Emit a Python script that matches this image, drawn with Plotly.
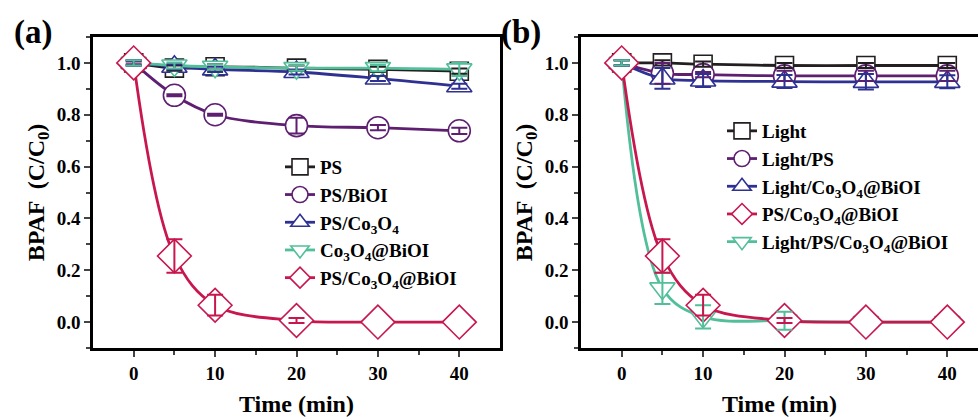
import plotly.graph_objects as go

time_min = [0, 5, 10, 20, 30, 40]
x_ticks = [0, 10, 20, 30, 40]
y_ticks = [0.0, 0.2, 0.4, 0.6, 0.8, 1.0]

# Panel (a)
a_names = ["PS", "PS/BiOI", "PS/Co<sub>3</sub>O<sub>4</sub>", "Co<sub>3</sub>O<sub>4</sub>@BiOI", "PS/Co<sub>3</sub>O<sub>4</sub>@BiOI"]
a_ps = [1.0, 0.98, 0.985, 0.98, 0.975, 0.968]
a_ps_err = [0.01, 0.01, 0.01, 0.01, 0.01, 0.01]
a_psbioi = [1.0, 0.875, 0.80, 0.758, 0.75, 0.738]
a_psbioi_err = [0.005, 0.004, 0.004, 0.03, 0.01, 0.012]
a_psco = [1.0, 0.985, 0.975, 0.965, 0.94, 0.91]
a_psco_err = [0.01, 0.01, 0.01, 0.01, 0.01, 0.01]
a_cobioi = [1.0, 0.99, 0.985, 0.98, 0.98, 0.975]
a_cobioi_err = [0.01, 0.012, 0.01, 0.01, 0.012, 0.025]
a_pscobioi = [1.0, 0.255, 0.065, 0.006, 0.0, 0.0]
a_pscobioi_err = [None, 0.065, 0.04, 0.01, None, None]

# Panel (b)
b_names = ["Light", "Light/PS", "Light/Co<sub>3</sub>O<sub>4</sub>@BiOI", "PS/Co<sub>3</sub>O<sub>4</sub>@BiOI", "Light/PS/Co<sub>3</sub>O<sub>4</sub>@BiOI"]
b_light = [1.0, 1.0, 0.995, 0.99, 0.99, 0.99]
b_light_err = [0.01, 0.01, 0.01, 0.01, 0.01, 0.01]
b_lightps = [1.0, 0.96, 0.955, 0.95, 0.95, 0.95]
b_lightps_err = [0.01, 0.04, 0.01, 0.02, 0.02, 0.02]
b_lightco = [1.0, 0.94, 0.932, 0.928, 0.927, 0.927]
b_lightco_err = [0.01, 0.04, 0.025, 0.025, 0.03, 0.025]
b_pscobioi = [1.0, 0.255, 0.065, 0.006, 0.0, 0.0]
b_pscobioi_err = [None, 0.065, 0.04, 0.01, None, None]
b_all = [1.0, 0.13, 0.02, 0.005, 0.0, 0.0]
b_all_err = [0.01, 0.06, 0.045, 0.035, None, None]

BLACK = "#231f20"
PURPLE = "#5e1f71"
BLUE = "#2e3192"
GREEN = "#52bf9a"
RED = "#c8174e"

FONT = "Liberation Serif"

fig = go.Figure()

def add_series(name, y, color, symbol, size, xa, ya, legend, rank):
    fig.add_trace(go.Scatter(
        x=time_min, y=y, name="<b>" + name + "</b>", mode="lines+markers",
        line=dict(color=color, width=2.8, shape="spline", smoothing=1.0),
        marker=dict(symbol=symbol, size=size, color="white",
                    line=dict(color=color, width=1.6)),
        xaxis=xa, yaxis=ya, legend=legend, legendrank=rank,
        legendgroup=legend + name, cliponaxis=False,
    ))

def add_err(y, err, color, xa, ya):
    xs = [t for t, e in zip(time_min, err) if e is not None]
    ys = [v for v, e in zip(y, err) if e is not None]
    es = [e for e in err if e is not None]
    fig.add_trace(go.Scatter(
        x=xs, y=ys, mode="markers", showlegend=False,
        marker=dict(size=1, opacity=0, color=color),
        error_y=dict(type="data", array=es, visible=True, color=color,
                     thickness=2, width=8),
        xaxis=xa, yaxis=ya, hoverinfo="skip", cliponaxis=False,
    ))

a_series = [
    (a_names[0], a_ps, a_ps_err, BLACK, "square", 18),
    (a_names[1], a_psbioi, a_psbioi_err, PURPLE, "circle", 22),
    (a_names[2], a_psco, a_psco_err, BLUE, "triangle-up", 22),
    (a_names[3], a_cobioi, a_cobioi_err, GREEN, "triangle-down", 22),
    (a_names[4], a_pscobioi, a_pscobioi_err, RED, "diamond", 26),
]
for i, (n, y, e, c, s, sz) in enumerate(a_series):
    add_series(n, y, c, s, sz, "x", "y", "legend", i)
for (n, y, e, c, s, sz) in a_series:
    add_err(y, e, c, "x", "y")

b_series = [
    (b_names[0], b_light, b_light_err, BLACK, "square", 18, 0),
    (b_names[1], b_lightps, b_lightps_err, PURPLE, "circle", 22, 1),
    (b_names[2], b_lightco, b_lightco_err, BLUE, "triangle-up", 22, 2),
    (b_names[4], b_all, b_all_err, GREEN, "triangle-down", 22, 4),
    (b_names[3], b_pscobioi, b_pscobioi_err, RED, "diamond", 26, 3),
]
for (n, y, e, c, s, sz, r) in b_series:
    add_series(n, y, c, s, sz, "x2", "y2", "legend2", r)
for (n, y, e, c, s, sz, r) in b_series:
    add_err(y, e, c, "x2", "y2")

W, H = 978, 417
L1, R1 = 93, 500
L2 = 581
T, B = 37, 348

axis_font = dict(family=FONT, size=19, color="black")
title_font = dict(family=FONT, size=24, color="black")

xcommon = dict(
    range=[-5, 45], tickvals=x_ticks, ticktext=["<b>%d</b>" % v for v in x_ticks],
    ticks="outside", ticklen=6,
    tickwidth=2, showline=True, linewidth=2.5, linecolor="black", mirror=True,
    showgrid=False, zeroline=False, tickfont=axis_font,
    minor=dict(tickvals=[5, 15, 25, 35], ticks="outside", ticklen=4, tickwidth=2, showgrid=False),
    title=dict(text="<b>Time (min)</b>", font=title_font, standoff=20),
    automargin=False,
)
ycommon = dict(
    range=[-0.1, 1.1], tickvals=y_ticks, ticktext=["<b>%.1f</b>" % v for v in y_ticks],
    ticks="outside", ticklen=6, tickwidth=2, showline=True, linewidth=2.5, linecolor="black",
    showgrid=False, zeroline=False, tickfont=axis_font,
    minor=dict(tickvals=[-0.1, 0.1, 0.3, 0.5, 0.7, 0.9, 1.1], ticks="outside", ticklen=4, tickwidth=2, showgrid=False),
    title=dict(text="<b>BPAF  (C/C<sub>0</sub>)</b>", font=title_font, standoff=6),
    automargin=False,
)

px_per_unit = (R1 - L1) / 50.0
x2_max = -5 + (W - L2) / px_per_unit

xa1 = dict(xcommon); xa1.update(domain=[L1 / W, R1 / W], anchor="y")
xa2 = dict(xcommon); xa2.update(domain=[L2 / W, 1.0], anchor="y2", range=[-5, x2_max])
ya1 = dict(ycommon); ya1.update(anchor="x", mirror=True)
ya2 = dict(ycommon); ya2.update(anchor="x2", mirror=False)

legend_font = dict(family=FONT, size=19, color="black")
ph = B - T

fig.update_layout(
    width=W, height=H,
    margin=dict(l=0, r=0, t=T, b=H - B, pad=0),
    paper_bgcolor="white", plot_bgcolor="white",
    xaxis=xa1, yaxis=ya1, xaxis2=xa2, yaxis2=ya2,
    legend=dict(x=280 / W, y=(B - 148) / ph, xanchor="left", yanchor="top",
                bgcolor="rgba(0,0,0,0)", font=legend_font, traceorder="grouped",
                tracegroupgap=0, itemsizing="trace"),
    legend2=dict(x=722 / W, y=(B - 112) / ph, xanchor="left", yanchor="top",
                 bgcolor="rgba(0,0,0,0)", font=legend_font, traceorder="grouped",
                 tracegroupgap=0, itemsizing="trace"),
    annotations=[
        dict(text="<b>(a)</b>", x=12 / W, y=(B - 33) / ph, xref="paper", yref="paper",
             xanchor="left", yanchor="middle", showarrow=False,
             font=dict(family=FONT, size=33, color="black")),
        dict(text="<b>(b)</b>", x=499 / W, y=(B - 33) / ph, xref="paper", yref="paper",
             xanchor="left", yanchor="middle", showarrow=False,
             font=dict(family=FONT, size=33, color="black")),
    ],
    showlegend=True,
)

fig.write_html("out.html")
